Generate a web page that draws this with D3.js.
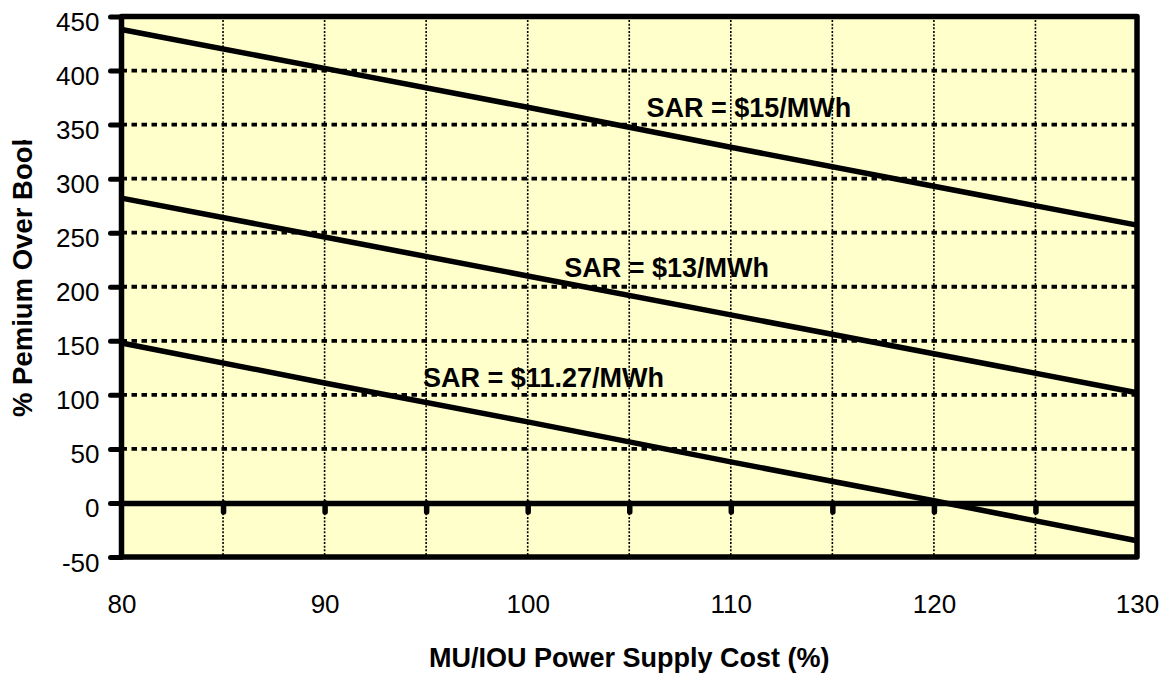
<!DOCTYPE html>
<html>
<head>
<meta charset="utf-8">
<script src="https://cdn.jsdelivr.net/npm/d3@7"></script>
<style>
  html, body { margin: 0; padding: 0; background: #ffffff; }
  svg { display: block; }
  text { font-family: "Liberation Sans", Arial, sans-serif; fill: #000; }
</style>
</head>
<body>
<svg id="chart" width="1168" height="677"></svg>
<script>
// ---- data ----
const costs = [80, 90, 100, 110, 120, 130];
const sar15 = [438, 402, 366, 329, 293, 257];
const sar13 = [282, 246, 210, 174, 138, 102];
const sar1127 = [148, 111, 75, 38, 2, -35];
const seriesNames = ["SAR = $15/MWh", "SAR = $13/MWh", "SAR = $11.27/MWh"];
const labelCost = [105.85, 101.8, 94.85];
const labelValue = [357, 209, 107.6];
const xTicks = [80, 90, 100, 110, 120, 130];
const xGrid = [85, 90, 95, 100, 105, 110, 115, 120, 125];
const yTicks = [-50, 0, 50, 100, 150, 200, 250, 300, 350, 400, 450];
const yGrid = [50, 100, 150, 200, 250, 300, 350, 400];
const xTitle = "MU/IOU Power Supply Cost (%)";
const yTitle = "% Pemium Over Book";

// ---- layout ----
const svg = d3.select("#chart");
const L = 121.5, R = 1137, T = 16.5, B = 557;
const x = d3.scaleLinear().domain([80, 130]).range([L, R]);
const y = d3.scaleLinear().domain([-50, 450]).range([B, T]);

// plot background
svg.append("rect").attr("x", L).attr("y", T).attr("width", R - L).attr("height", B - T)
  .attr("fill", "#FFFFCC");

// vertical grid
svg.append("g").selectAll("line").data(xGrid).join("line")
  .attr("x1", d => x(d)).attr("x2", d => x(d))
  .attr("y1", T).attr("y2", B)
  .attr("stroke", "#000").attr("stroke-width", 1.6)
  .attr("stroke-dasharray", "2,1.6");

// horizontal grid
svg.append("g").selectAll("line").data(yGrid).join("line")
  .attr("x1", L).attr("x2", R)
  .attr("y1", d => y(d)).attr("y2", d => y(d))
  .attr("stroke", "#000").attr("stroke-width", 3.8)
  .attr("stroke-dasharray", "5.5,4.5");

// zero axis with ticks
const zeroAxis = svg.append("g").attr("transform", `translate(0,${y(0)})`)
  .call(d3.axisBottom(x).tickValues(xGrid).tickSize(9).tickSizeOuter(0).tickFormat(""));
zeroAxis.select(".domain").attr("stroke", "#000").attr("stroke-width", 5.5);
zeroAxis.selectAll(".tick line").attr("stroke", "#000").attr("stroke-width", 5.5)
  .attr("stroke-linecap", "round");

// series lines
const line = d3.line().x((d, i) => x(costs[i])).y(d => y(d));
[sar15, sar13, sar1127].forEach(s => {
  svg.append("path").datum(s).attr("d", line)
    .attr("fill", "none").attr("stroke", "#000").attr("stroke-width", 5.5);
});

// y axis (left)
const yAxis = svg.append("g").attr("transform", `translate(${L},0)`)
  .call(d3.axisLeft(y).tickValues(yTicks).tickSize(11).tickSizeOuter(0).tickPadding(11)
    .tickFormat(d => String(d)));
yAxis.select(".domain").remove();
yAxis.selectAll(".tick line").attr("stroke", "#000").attr("stroke-width", 5)
  .attr("stroke-linecap", "round");
yAxis.selectAll(".tick text").attr("font-size", 26).attr("dy", "0.54em")
  .attr("font-family", "Liberation Sans, Arial, sans-serif");

// x axis labels (bottom)
const xAxis = svg.append("g").attr("transform", `translate(0,${B})`)
  .call(d3.axisBottom(x).tickValues(xTicks).tickSize(0).tickPadding(37.5)
    .tickFormat(d => String(d)));
xAxis.select(".domain").remove();
xAxis.selectAll(".tick text").attr("font-size", 26)
  .attr("font-family", "Liberation Sans, Arial, sans-serif");

// plot border
svg.append("rect").attr("x", L).attr("y", T).attr("width", R - L).attr("height", B - T)
  .attr("fill", "none").attr("stroke", "#000").attr("stroke-width", 5.5)
  .attr("stroke-linejoin", "round");

// series labels
seriesNames.forEach((n, i) => {
  svg.append("text").attr("x", x(labelCost[i])).attr("y", y(labelValue[i]))
    .attr("font-size", 27).attr("font-weight", "bold").text(n);
});

// axis titles
svg.append("text").attr("x", (L + R) / 2).attr("y", 667)
  .attr("text-anchor", "middle").attr("font-size", 27).attr("font-weight", "bold")
  .text(xTitle);

svg.append("clipPath").attr("id", "yclip").append("rect")
  .attr("x", 0).attr("y", 140).attr("width", 60).attr("height", 400);
svg.append("g").attr("clip-path", "url(#yclip)")
  .append("text").attr("transform", "translate(32,417) rotate(-90)")
  .attr("text-anchor", "start").attr("font-size", 27.5).attr("font-weight", "bold")
  .text(yTitle);
</script>
</body>
</html>
